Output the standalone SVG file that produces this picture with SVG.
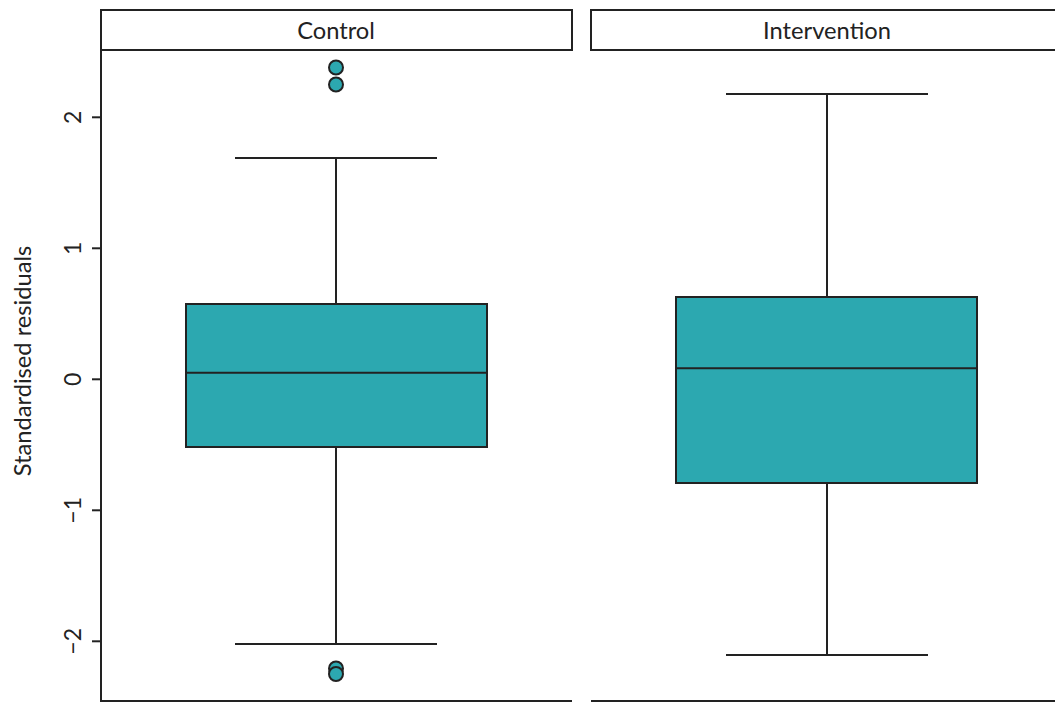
<svg xmlns="http://www.w3.org/2000/svg" width="1055" height="702" viewBox="0 0 1055 702">
<style>
.frame{fill:#fff;stroke:#222;stroke-width:2}
.ax{stroke:#222;stroke-width:2;fill:none}
.box{fill:#2CA8B0;stroke:#222;stroke-width:2}
.ln{stroke:#222;stroke-width:2;fill:none}
.pt{fill:#2CA8B0;stroke:#222;stroke-width:2}
text{font-family:Lato,"Open Sans","Liberation Sans",sans-serif;fill:#222}
.strip{font-size:23.7px;text-anchor:middle}
.tick{font-size:23px;text-anchor:middle}
</style>
<rect width="1055" height="702" fill="#fff"/>
<g id="axis-y">
<line class="ax" x1="101" y1="50" x2="101" y2="702"/>
<line class="ax" x1="92" y1="117.3" x2="101" y2="117.3"/>
<line class="ax" x1="92" y1="248.3" x2="101" y2="248.3"/>
<line class="ax" x1="92" y1="379.3" x2="101" y2="379.3"/>
<line class="ax" x1="92" y1="510.3" x2="101" y2="510.3"/>
<line class="ax" x1="92" y1="641.3" x2="101" y2="641.3"/>
<text class="tick" transform="translate(80.5,117.3) rotate(-90)">2</text>
<text class="tick" transform="translate(80.5,248.3) rotate(-90)">1</text>
<text class="tick" transform="translate(80.5,379.3) rotate(-90)">0</text>
<text class="tick" transform="translate(80.5,510.3) rotate(-90)">−1</text>
<text class="tick" transform="translate(80.5,641.3) rotate(-90)">−2</text>
<text font-size="23.7" text-anchor="middle" transform="translate(31,361) rotate(-90)">Standardised residuals</text>
</g>
<g id="axis-x">
<line class="ax" x1="101" y1="701" x2="572" y2="701"/>
<line class="ax" x1="591" y1="701" x2="1056" y2="701"/>
</g>
<g id="strip-control">
<rect class="frame" x="101" y="10" width="471" height="40"/>
<text class="strip" x="336" y="38.5">Control</text>
</g>
<g id="strip-intervention">
<rect class="frame" x="591" y="10" width="470" height="40"/>
<text class="strip" x="827" y="38.5">Intervention</text>
</g>
<g id="connectors">
<line class="ln" x1="336" y1="158" x2="336" y2="304"/>
<line class="ln" x1="235" y1="158" x2="437" y2="158"/>
<line class="ln" x1="336" y1="447" x2="336" y2="644"/>
<line class="ln" x1="235" y1="644" x2="437" y2="644"/>
<line class="ln" x1="827" y1="94" x2="827" y2="297"/>
<line class="ln" x1="726" y1="94" x2="928" y2="94"/>
<line class="ln" x1="827" y1="483" x2="827" y2="655"/>
<line class="ln" x1="726" y1="655" x2="928" y2="655"/>
</g>
<g id="box-control">
<rect class="box" x="186" y="304" width="301" height="143"/>
<line class="ln" x1="186" y1="372.7" x2="487" y2="372.7"/>
</g>
<g id="box-intervention">
<rect class="box" x="676" y="297" width="301" height="186"/>
<line class="ln" x1="676" y1="368.3" x2="977" y2="368.3"/>
</g>
<g id="outliers">
<circle class="pt" cx="336" cy="67.5" r="7"/>
<circle class="pt" cx="336" cy="84.5" r="7"/>
<circle class="pt" cx="336" cy="668.5" r="7"/>
<circle class="pt" cx="336" cy="674" r="7"/>
</g>
</svg>
